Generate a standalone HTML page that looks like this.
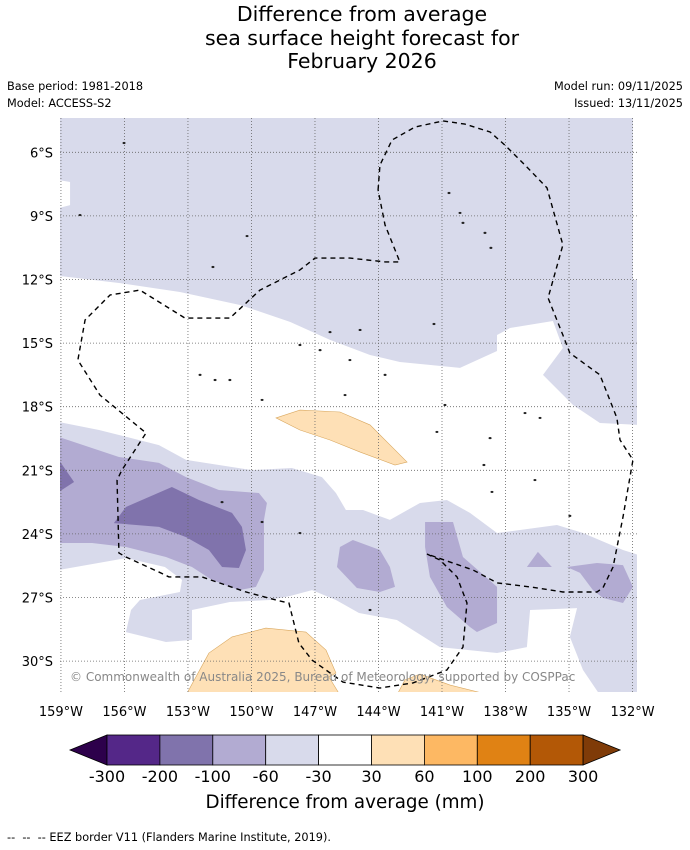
<!DOCTYPE html>
<html><head><meta charset="utf-8">
<style>
body{margin:0;background:#fff;font-family:"DejaVu Sans","Liberation Sans",sans-serif;}
#wrap{position:relative;width:690px;height:850px;overflow:hidden;background:#fff}
.t{position:absolute;white-space:nowrap;color:#000}
</style></head>
<body>
<div id="wrap">
<div class="t" style="left:0;width:724px;top:3px;text-align:center;font-size:20.5px;line-height:23.5px">Difference from average<br>sea surface height forecast for<br>February 2026</div>
<div class="t" style="left:7px;top:80px;font-size:11.3px">Base period: 1981-2018</div>
<div class="t" style="left:7px;top:97px;font-size:11.3px">Model: ACCESS-S2</div>
<div class="t" style="right:7px;top:80px;font-size:11.3px">Model run: 09/11/2025</div>
<div class="t" style="right:7px;top:97px;font-size:11.3px">Issued: 13/11/2025</div>
<svg id="map" width="690" height="850" style="position:absolute;left:0;top:0;font-family:'DejaVu Sans','Liberation Sans',sans-serif"></svg>
<div class="t" style="left:0;width:690px;top:792px;text-align:center;font-size:18.3px">Difference from average (mm)</div>
<div class="t" style="left:7px;top:831px;font-size:11.3px">-- &nbsp;-- &nbsp;-- EEZ border V11 (Flanders Marine Institute, 2019).</div>
</div>
<script>
const lonTicks=[159,156,153,150,147,144,141,138,135,132];
const latTicks=[6,9,12,15,18,21,24,27,30];
const cbLabels=["-300","-200","-100","-60","-30","30","60","100","200","300"];
const cbColors=["#542788","#8073ac","#b2abd2","#d8daeb","#ffffff","#fee0b6","#fdb863","#e08214","#b35806"];
const lightTop=[[159.1,4.3],[131.98,4.3],[131.98,12.02],[131.7,12.02],[131.7,18.86],[133.54,18.77],[134.81,17.92],[136.23,16.5],[135.29,15.23],[135.76,13.96],[137.79,14.29],[138.4,14.62],[138.4,15.37],[140.15,16.17],[142.99,15.89],[144.4,15.56],[146.29,14.85],[148.18,14.0],[150.54,13.2],[153.38,12.59],[156.21,12.17],[159.1,11.83],[159.1,8.63],[158.57,8.49],[158.57,7.4],[159.1,7.31]];
const lightBand=[[159.1,18.72],[157.2,19.1],[154.37,19.81],[153.09,20.51],[149.98,20.99],[148.09,20.89],[146.67,21.32],[146.01,22.07],[145.54,22.87],[144.73,22.87],[143.46,23.34],[142.04,22.54],[140.77,22.4],[139.68,23.01],[138.4,23.96],[135.57,23.58],[134.34,23.96],[132.45,24.76],[131.7,25.0],[131.7,31.6],[133.54,31.6],[134.34,30.42],[134.96,28.86],[134.62,27.5],[136.84,27.59],[136.99,29.34],[138.4,29.62],[141.1,29.34],[143.13,28.06],[144.92,27.73],[146.01,27.12],[147.14,26.65],[148.18,26.93],[149.13,27.12],[151.02,27.21],[152.81,27.59],[152.81,29.0],[154.04,29.1],[155.93,28.63],[155.69,27.59],[155.27,27.12],[153.38,26.74],[153.28,26.17],[154.09,25.56],[155.93,25.14],[159.1,25.7]];
const midBand=[[159.1,19.43],[156.26,20.37],[154.37,20.65],[153.09,21.32],[151.54,21.93],[149.65,22.07],[149.27,22.54],[149.41,23.34],[149.41,25.7],[149.79,26.5],[150.59,26.65],[151.87,26.17],[152.81,25.56],[154.04,25.09],[155.93,24.62],[157.53,24.43],[159.1,24.43]];
const darkBand=[[156.5,23.49],[155.93,22.73],[153.76,21.79],[152.48,22.4],[150.92,23.01],[150.45,23.67],[150.26,24.76],[150.59,25.61],[151.39,25.56],[152.01,24.76],[153.09,24.15],[154.37,23.67]];
const dark2=[[159.1,20.51],[158.38,21.55],[159.1,22.02]];
const mid2=[[145.96,25.56],[145.82,24.62],[145.21,24.29],[143.93,24.76],[143.46,25.56],[143.22,26.5],[143.93,26.74],[145.02,26.55]];
const mid3=[[141.8,23.44],[140.48,23.44],[140.01,25.09],[138.4,26.5],[138.4,28.2],[139.35,28.63],[139.68,28.39],[140.77,27.45],[141.57,26.03],[141.8,24.62]];
const mid4=[[136.99,25.56],[136.47,24.85],[135.81,25.56]];
const mid5=[[135.1,25.56],[133.68,25.37],[132.45,25.47],[131.98,26.5],[132.45,27.26],[133.4,27.02],[133.87,26.65],[134.48,25.84]];
const peach1=[[148.84,18.53],[147.71,18.16],[145.82,18.25],[144.4,18.86],[143.22,20.04],[142.65,20.61],[143.22,20.75],[144.87,20.14],[146.29,19.57],[147.71,19.1]];
const peach2=[[153.09,31.6],[152.01,29.62],[150.92,28.86],[149.32,28.44],[147.43,28.63],[146.48,29.48],[146.01,30.56],[146.34,30.75],[145.82,31.6]];
const peach3=[[143.13,31.6],[142.75,30.89],[142.04,30.61],[140.62,31.13],[138.73,31.6]];
const eez=[[144.02,7.78],[143.93,6.6],[143.36,5.42],[142.28,4.81],[140.95,4.52],[139.92,4.67],[138.73,5.04],[138.03,5.66],[137.08,6.6],[136.04,7.68],[135.29,10.37],[135.99,12.87],[135.29,14.62],[134.96,15.47],[133.54,16.5],[132.74,18.53],[132.59,19.57],[131.98,20.51],[132.45,23.2],[132.92,25.56],[133.4,26.55],[133.68,26.74],[135.29,26.74],[136.84,26.5],[138.4,26.31],[139.54,25.7],[141.71,24.95],[141.1,25.23],[140.29,26.03],[139.82,27.26],[140.01,29.34],[140.77,30.42],[142.37,31.03],[143.93,31.27],[145.68,30.99],[147.14,29.95],[147.76,29.15],[148.23,27.26],[148.84,27.12],[150.26,26.74],[152.34,26.03],[153.9,26.03],[154.37,25.8],[155.93,25.09],[156.26,24.9],[156.35,21.46],[156.12,20.99],[154.98,19.24],[157.16,17.45],[158.2,15.8],[157.86,13.91],[156.68,12.73],[155.27,12.5],[153.14,13.82],[151.02,13.82],[149.6,12.5],[147.71,11.55],[147.0,10.99],[145.35,10.99],[143.69,11.17],[142.99,11.17],[143.69,9.43],[144.02,7.78]];
const islands=[[156.02,5.56],[158.1,8.96],[151.82,11.41],[150.21,9.95],[140.67,7.92],[140.15,8.86],[140.01,9.33],[138.97,9.8],[138.69,10.51],[141.38,14.1],[146.29,14.48],[144.87,14.38],[147.71,15.09],[146.76,15.33],[145.35,15.8],[143.69,16.5],[152.43,16.5],[151.72,16.74],[151.02,16.74],[149.5,17.68],[145.58,17.45],[140.86,17.92],[137.08,18.3],[136.37,18.53],[138.73,19.48],[141.24,19.19],[139.02,20.75],[138.64,22.02],[136.61,21.46],[134.96,23.15],[151.39,22.5],[149.5,23.44],[147.71,23.96],[144.4,27.59]];
const X=lon=>442+(141-lon)*21.17;
const Y=lat=>152.3+(lat-6)*21.2;
const NS="http://www.w3.org/2000/svg";
const svg=document.getElementById('map');
function mk(tag,attrs,parent){const e=document.createElementNS(NS,tag);for(const k in attrs)e.setAttribute(k,attrs[k]);(parent||svg).appendChild(e);return e;}
const clip=mk('clipPath',{id:'mc'});mk('rect',{x:60,y:118,width:577,height:574},clip);
const g=mk('g',{'clip-path':'url(#mc)'});
function poly(pts,fill,name,stroke){const p=mk('polygon',{points:pts.map(q=>X(q[0])+','+Y(q[1])).join(' '),fill:fill,stroke:stroke||'none','stroke-width':0.6},g);

}
poly(lightTop,'#d8daeb','anomaly-light-north');
poly(lightBand,'#d8daeb','anomaly-light-south');
poly(midBand,'#b2abd2','anomaly-mid-west');
poly(mid2,'#b2abd2','anomaly-mid-center');
poly(mid3,'#b2abd2','anomaly-mid-east');
poly(mid4,'#b2abd2','anomaly-mid-small');
poly(mid5,'#b2abd2','anomaly-mid-far-east');
poly(darkBand,'#8073ac','anomaly-dark-west');
poly(dark2,'#8073ac','anomaly-dark-edge');
poly(peach1,'#fee0b6','anomaly-positive-north','#d9a860');
poly(peach2,'#fee0b6','anomaly-positive-south','#d9a860');
poly(peach3,'#fee0b6','anomaly-positive-southeast','#d9a860');
lonTicks.forEach(l=>{const ln=mk('line',{x1:X(l),x2:X(l),y1:118,y2:692,stroke:'#666','stroke-width':0.8,'stroke-dasharray':'1,2'},g);


const t=mk('text',{x:X(l),y:716,'text-anchor':'middle','font-size':13,fill:'#000'});t.textContent=l+'°W';

});
latTicks.forEach(l=>{const ln=mk('line',{x1:60,x2:637,y1:Y(l),y2:Y(l),stroke:'#666','stroke-width':0.8,'stroke-dasharray':'1,2'},g);


const t=mk('text',{x:53,y:Y(l)+5,'text-anchor':'end','font-size':13,fill:'#000'});t.textContent=l+'°S';

});
islands.forEach(p=>{const c=mk('ellipse',{cx:X(p[0]),cy:Y(p[1]),rx:1.5,ry:1.1,fill:'#222'},g);

});
const ez=mk('polyline',{points:eez.map(q=>X(q[0])+','+Y(q[1])).join(' '),fill:'none',stroke:'#000','stroke-width':1.4,'stroke-dasharray':'5,4'},g);


const cp=mk('text',{x:70,y:681,'font-size':12,fill:'#888'});cp.textContent='© Commonwealth of Australia 2025, Bureau of Meteorology, supported by COSPPac';


const x0=107,bw=52.9,cy0=735,ch=30;
const lt=mk('polygon',{points:`70,750 ${x0},${cy0} ${x0},${cy0+ch}`,fill:'#2d004b',stroke:'#000','stroke-width':0.8});


cbColors.forEach((c,i)=>{const r=mk('rect',{x:x0+i*bw,y:cy0,width:bw,height:ch,fill:c,stroke:'#000','stroke-width':0.8});

});
const xe=x0+cbColors.length*bw;
const rt=mk('polygon',{points:`${xe},${cy0} ${xe+37},750 ${xe},${cy0+ch}`,fill:'#7f3b08',stroke:'#000','stroke-width':0.8});


cbLabels.forEach((s,i)=>{const t=mk('text',{x:x0+i*bw,y:782,'text-anchor':'middle','font-size':16,fill:'#000'});t.textContent=s;

});
</script>
</body></html>
